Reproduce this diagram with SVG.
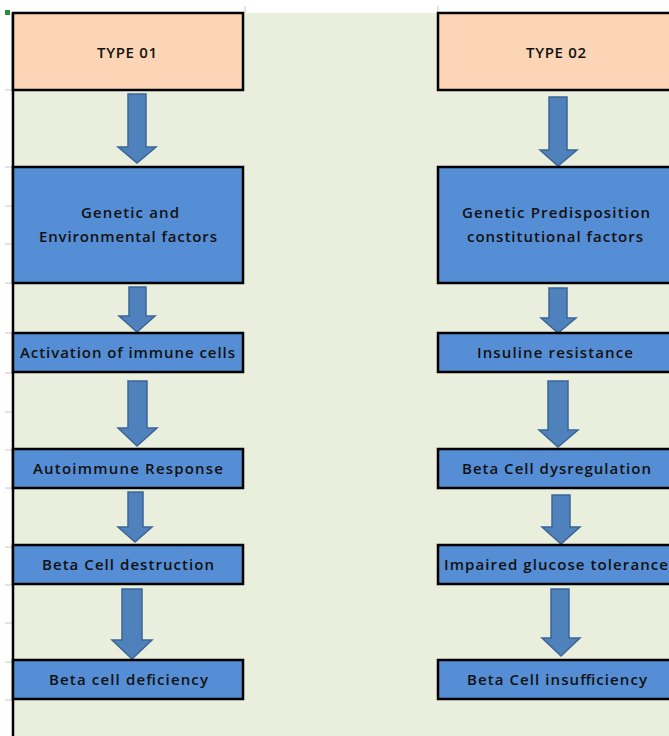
<svg xmlns="http://www.w3.org/2000/svg" width="669" height="736" viewBox="0 0 669 736">
<style>
.bg{fill:#EAEEDC}
.tick{stroke:#C8C8C8;stroke-width:1}
.hdr{fill:#FBD5B5;stroke:#000;stroke-width:2.5}
.box{fill:#558ED5;stroke:#000;stroke-width:2.5}
.t{font-family:"Open Sans","Liberation Sans",sans-serif;font-size:15px;font-weight:600;fill:#111;text-anchor:middle}
.arr{fill:#4F81BD;stroke:#3B6596;stroke-width:1.5}
</style>
<rect x="0" y="0" width="669" height="736" fill="#FFFFFF"/>
<rect class="bg" x="13" y="13" width="656" height="723"/>
<g id="gutter">
<line class="tick" x1="245" y1="6" x2="245" y2="13"/>
<line class="tick" x1="438" y1="6" x2="438" y2="13"/>
<line class="tick" x1="5" y1="90" x2="12" y2="90"/>
<line class="tick" x1="5" y1="167" x2="12" y2="167"/>
<line class="tick" x1="5" y1="206" x2="12" y2="206"/>
<line class="tick" x1="5" y1="244" x2="12" y2="244"/>
<line class="tick" x1="5" y1="283" x2="12" y2="283"/>
<line class="tick" x1="5" y1="333" x2="12" y2="333"/>
<line class="tick" x1="5" y1="373" x2="12" y2="373"/>
<line class="tick" x1="5" y1="412" x2="12" y2="412"/>
<line class="tick" x1="5" y1="450" x2="12" y2="450"/>
<line class="tick" x1="5" y1="488" x2="12" y2="488"/>
<line class="tick" x1="5" y1="547" x2="12" y2="547"/>
<line class="tick" x1="5" y1="585" x2="12" y2="585"/>
<line class="tick" x1="5" y1="623" x2="12" y2="623"/>
<line class="tick" x1="5" y1="662" x2="12" y2="662"/>
<line class="tick" x1="5" y1="700" x2="12" y2="700"/>
<rect x="5" y="10" width="5" height="5" fill="#2E8B3A"/>
<line x1="13" y1="13" x2="13" y2="736" stroke="#000" stroke-width="2.5"/>
</g>
<g id="connectors">
<path class="arr" d="M128,94 H146 V147 H156 L137,163 L118,147 H128 Z"/>
<path class="arr" d="M129,287 H146 V316 H155 L137,332 L119,316 H129 Z"/>
<path class="arr" d="M128,381 H147 V428 H157 L137,446 L118,428 H128 Z"/>
<path class="arr" d="M128,492 H143 V527 H152 L135,542 L118,527 H128 Z"/>
<path class="arr" d="M122,589 H142 V640 H152 L132,659 L112,640 H122 Z"/>
<path class="arr" d="M549,97 H567 V150 H577 L558,166 L540,150 H549 Z"/>
<path class="arr" d="M549,288 H567 V318 H576 L558,333 L541,318 H549 Z"/>
<path class="arr" d="M548,381 H568 V430 H578 L558,447 L539,430 H548 Z"/>
<path class="arr" d="M552,495 H570 V527 H580 L561,544 L542,527 H552 Z"/>
<path class="arr" d="M551,589 H569 V638 H580 L561,656 L542,638 H551 Z"/>
</g>
<g id="type01">
<rect class="hdr" x="13" y="13" width="230" height="77"/>
<text class="t" x="127" y="58" textLength="60" lengthAdjust="spacing">TYPE 01</text>
</g>
<g id="genetic1">
<rect class="box" x="13" y="167" width="230" height="116"/>
<text class="t" x="130" y="218" textLength="98" lengthAdjust="spacing">Genetic and</text>
<text class="t" x="128" y="242" textLength="178" lengthAdjust="spacing">Environmental factors</text>
</g>
<g id="activation">
<rect class="box" x="13" y="333" width="230" height="39"/>
<text class="t" x="127.5" y="358" textLength="215" lengthAdjust="spacing">Activation of immune cells</text>
</g>
<g id="autoimmune">
<rect class="box" x="13" y="449" width="230" height="39"/>
<text class="t" x="128" y="474" textLength="190" lengthAdjust="spacing">Autoimmune Response</text>
</g>
<g id="destruction">
<rect class="box" x="13" y="545" width="230" height="39"/>
<text class="t" x="128" y="570" textLength="172" lengthAdjust="spacing">Beta Cell destruction</text>
</g>
<g id="deficiency">
<rect class="box" x="13" y="660" width="230" height="39"/>
<text class="t" x="128.5" y="685" textLength="159" lengthAdjust="spacing">Beta cell deficiency</text>
</g>
<g id="type02">
<rect class="hdr" x="438" y="13" width="236" height="77"/>
<text class="t" x="556" y="58" textLength="60" lengthAdjust="spacing">TYPE 02</text>
</g>
<g id="genetic2">
<rect class="box" x="438" y="167" width="236" height="116"/>
<text class="t" x="556" y="218" textLength="188" lengthAdjust="spacing">Genetic Predisposition</text>
<text class="t" x="555" y="242" textLength="176" lengthAdjust="spacing">constitutional factors</text>
</g>
<g id="insuline">
<rect class="box" x="438" y="333" width="236" height="39"/>
<text class="t" x="555" y="358" textLength="156" lengthAdjust="spacing">Insuline resistance</text>
</g>
<g id="dysregulation">
<rect class="box" x="438" y="449" width="236" height="39"/>
<text class="t" x="556.5" y="474" textLength="189" lengthAdjust="spacing">Beta Cell dysregulation</text>
</g>
<g id="impaired">
<rect class="box" x="438" y="545" width="236" height="39"/>
<text class="t" x="556" y="570" textLength="224" lengthAdjust="spacing">Impaired glucose tolerance</text>
</g>
<g id="insufficiency">
<rect class="box" x="438" y="660" width="236" height="39"/>
<text class="t" x="557" y="685" textLength="180" lengthAdjust="spacing">Beta Cell insufficiency</text>
</g>
</svg>
